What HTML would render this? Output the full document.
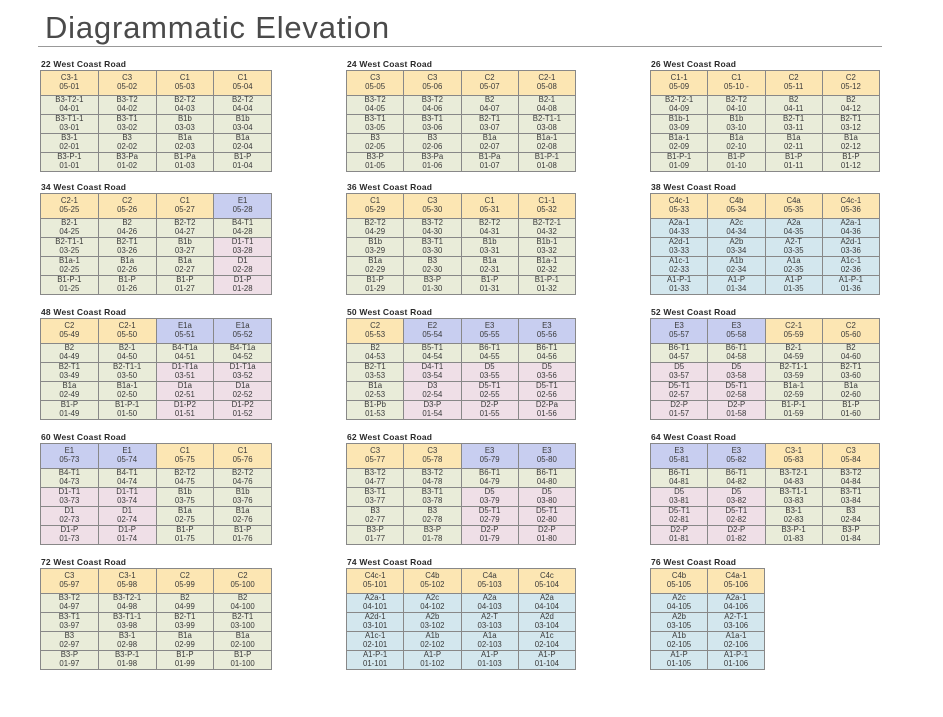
<!DOCTYPE html>
<html><head><meta charset="utf-8">
<style>
html,body{margin:0;padding:0;background:#fff;}
body{width:943px;height:717px;position:relative;overflow:hidden;font-family:"Liberation Sans",sans-serif;}
h1{position:absolute;left:45px;top:10px;margin:0;font-weight:normal;font-size:31px;color:#4a4a4a;letter-spacing:0.8px;}
.rule{position:absolute;left:38px;top:46px;width:844px;height:1px;background:#999;}
.hd{position:absolute;font-weight:bold;font-size:8.5px;color:#2a2a2a;letter-spacing:0.2px;}
table{position:absolute;border-collapse:collapse;border:1.5px solid #666;table-layout:fixed;}
td{border:1px solid #888;text-align:center;font-size:7.8px;line-height:8.6px;color:#3a3a3a;padding:0;height:18px;}
tr:first-child td{height:24px;}
.y{background:#fce6b3;}.g{background:#e9ecd9;}.b{background:#d3e7ee;}.p{background:#c8cef0;}.k{background:#efdfe7;}
</style></head><body>
<h1>Diagrammatic Elevation</h1>
<div class="rule"></div>

<div class="hd" style="left:41px;top:59px">22 West Coast Road</div>
<table style="left:40px;top:70px;width:232px">
<tr><td class=y>C3-1<br>05-01</td><td class=y>C3<br>05-02</td><td class=y>C1<br>05-03</td><td class=y>C1<br>05-04</td></tr>
<tr><td class=g>B3-T2-1<br>04-01</td><td class=g>B3-T2<br>04-02</td><td class=g>B2-T2<br>04-03</td><td class=g>B2-T2<br>04-04</td></tr>
<tr><td class=g>B3-T1-1<br>03-01</td><td class=g>B3-T1<br>03-02</td><td class=g>B1b<br>03-03</td><td class=g>B1b<br>03-04</td></tr>
<tr><td class=g>B3-1<br>02-01</td><td class=g>B3<br>02-02</td><td class=g>B1a<br>02-03</td><td class=g>B1a<br>02-04</td></tr>
<tr><td class=g>B3-P-1<br>01-01</td><td class=g>B3-Pa<br>01-02</td><td class=g>B1-Pa<br>01-03</td><td class=g>B1-P<br>01-04</td></tr>
</table>

<div class="hd" style="left:347px;top:59px">24 West Coast Road</div>
<table style="left:346px;top:70px;width:230px">
<tr><td class=y>C3<br>05-05</td><td class=y>C3<br>05-06</td><td class=y>C2<br>05-07</td><td class=y>C2-1<br>05-08</td></tr>
<tr><td class=g>B3-T2<br>04-05</td><td class=g>B3-T2<br>04-06</td><td class=g>B2<br>04-07</td><td class=g>B2-1<br>04-08</td></tr>
<tr><td class=g>B3-T1<br>03-05</td><td class=g>B3-T1<br>03-06</td><td class=g>B2-T1<br>03-07</td><td class=g>B2-T1-1<br>03-08</td></tr>
<tr><td class=g>B3<br>02-05</td><td class=g>B3<br>02-06</td><td class=g>B1a<br>02-07</td><td class=g>B1a-1<br>02-08</td></tr>
<tr><td class=g>B3-P<br>01-05</td><td class=g>B3-Pa<br>01-06</td><td class=g>B1-Pa<br>01-07</td><td class=g>B1-P-1<br>01-08</td></tr>
</table>

<div class="hd" style="left:651px;top:59px">26 West Coast Road</div>
<table style="left:650px;top:70px;width:230px">
<tr><td class=y>C1-1<br>05-09</td><td class=y>C1<br>05-10 -</td><td class=y>C2<br>05-11</td><td class=y>C2<br>05-12</td></tr>
<tr><td class=g>B2-T2-1<br>04-09</td><td class=g>B2-T2<br>04-10</td><td class=g>B2<br>04-11</td><td class=g>B2<br>04-12</td></tr>
<tr><td class=g>B1b-1<br>03-09</td><td class=g>B1b<br>03-10</td><td class=g>B2-T1<br>03-11</td><td class=g>B2-T1<br>03-12</td></tr>
<tr><td class=g>B1a-1<br>02-09</td><td class=g>B1a<br>02-10</td><td class=g>B1a<br>02-11</td><td class=g>B1a<br>02-12</td></tr>
<tr><td class=g>B1-P-1<br>01-09</td><td class=g>B1-P<br>01-10</td><td class=g>B1-P<br>01-11</td><td class=g>B1-P<br>01-12</td></tr>
</table>

<div class="hd" style="left:41px;top:182px">34 West Coast Road</div>
<table style="left:40px;top:193px;width:232px">
<tr><td class=y>C2-1<br>05-25</td><td class=y>C2<br>05-26</td><td class=y>C1<br>05-27</td><td class=p>E1<br>05-28</td></tr>
<tr><td class=g>B2-1<br>04-25</td><td class=g>B2<br>04-26</td><td class=g>B2-T2<br>04-27</td><td class=g>B4-T1<br>04-28</td></tr>
<tr><td class=g>B2-T1-1<br>03-25</td><td class=g>B2-T1<br>03-26</td><td class=g>B1b<br>03-27</td><td class=k>D1-T1<br>03-28</td></tr>
<tr><td class=g>B1a-1<br>02-25</td><td class=g>B1a<br>02-26</td><td class=g>B1a<br>02-27</td><td class=k>D1<br>02-28</td></tr>
<tr><td class=g>B1-P-1<br>01-25</td><td class=g>B1-P<br>01-26</td><td class=g>B1-P<br>01-27</td><td class=k>D1-P<br>01-28</td></tr>
</table>

<div class="hd" style="left:347px;top:182px">36 West Coast Road</div>
<table style="left:346px;top:193px;width:230px">
<tr><td class=y>C1<br>05-29</td><td class=y>C3<br>05-30</td><td class=y>C1<br>05-31</td><td class=y>C1-1<br>05-32</td></tr>
<tr><td class=g>B2-T2<br>04-29</td><td class=g>B3-T2<br>04-30</td><td class=g>B2-T2<br>04-31</td><td class=g>B2-T2-1<br>04-32</td></tr>
<tr><td class=g>B1b<br>03-29</td><td class=g>B3-T1<br>03-30</td><td class=g>B1b<br>03-31</td><td class=g>B1b-1<br>03-32</td></tr>
<tr><td class=g>B1a<br>02-29</td><td class=g>B3<br>02-30</td><td class=g>B1a<br>02-31</td><td class=g>B1a-1<br>02-32</td></tr>
<tr><td class=g>B1-P<br>01-29</td><td class=g>B3-P<br>01-30</td><td class=g>B1-P<br>01-31</td><td class=g>B1-P-1<br>01-32</td></tr>
</table>

<div class="hd" style="left:651px;top:182px">38 West Coast Road</div>
<table style="left:650px;top:193px;width:230px">
<tr><td class=y>C4c-1<br>05-33</td><td class=y>C4b<br>05-34</td><td class=y>C4a<br>05-35</td><td class=y>C4c-1<br>05-36</td></tr>
<tr><td class=b>A2a-1<br>04-33</td><td class=b>A2c<br>04-34</td><td class=b>A2a<br>04-35</td><td class=b>A2a-1<br>04-36</td></tr>
<tr><td class=b>A2d-1<br>03-33</td><td class=b>A2b<br>03-34</td><td class=b>A2-T<br>03-35</td><td class=b>A2d-1<br>03-36</td></tr>
<tr><td class=b>A1c-1<br>02-33</td><td class=b>A1b<br>02-34</td><td class=b>A1a<br>02-35</td><td class=b>A1c-1<br>02-36</td></tr>
<tr><td class=b>A1-P-1<br>01-33</td><td class=b>A1-P<br>01-34</td><td class=b>A1-P<br>01-35</td><td class=b>A1-P-1<br>01-36</td></tr>
</table>

<div class="hd" style="left:41px;top:307px">48 West Coast Road</div>
<table style="left:40px;top:318px;width:232px">
<tr><td class=y>C2<br>05-49</td><td class=y>C2-1<br>05-50</td><td class=p>E1a<br>05-51</td><td class=p>E1a<br>05-52</td></tr>
<tr><td class=g>B2<br>04-49</td><td class=g>B2-1<br>04-50</td><td class=g>B4-T1a<br>04-51</td><td class=g>B4-T1a<br>04-52</td></tr>
<tr><td class=g>B2-T1<br>03-49</td><td class=g>B2-T1-1<br>03-50</td><td class=k>D1-T1a<br>03-51</td><td class=k>D1-T1a<br>03-52</td></tr>
<tr><td class=g>B1a<br>02-49</td><td class=g>B1a-1<br>02-50</td><td class=k>D1a<br>02-51</td><td class=k>D1a<br>02-52</td></tr>
<tr><td class=g>B1-P<br>01-49</td><td class=g>B1-P-1<br>01-50</td><td class=k>D1-P2<br>01-51</td><td class=k>D1-P2<br>01-52</td></tr>
</table>

<div class="hd" style="left:347px;top:307px">50 West Coast Road</div>
<table style="left:346px;top:318px;width:230px">
<tr><td class=y>C2<br>05-53</td><td class=p>E2<br>05-54</td><td class=p>E3<br>05-55</td><td class=p>E3<br>05-56</td></tr>
<tr><td class=g>B2<br>04-53</td><td class=g>B5-T1<br>04-54</td><td class=g>B6-T1<br>04-55</td><td class=g>B6-T1<br>04-56</td></tr>
<tr><td class=g>B2-T1<br>03-53</td><td class=k>D4-T1<br>03-54</td><td class=k>D5<br>03-55</td><td class=k>D5<br>03-56</td></tr>
<tr><td class=g>B1a<br>02-53</td><td class=k>D3<br>02-54</td><td class=k>D5-T1<br>02-55</td><td class=k>D5-T1<br>02-56</td></tr>
<tr><td class=g>B1-Pb<br>01-53</td><td class=k>D3-P<br>01-54</td><td class=k>D2-P<br>01-55</td><td class=k>D2-Pa<br>01-56</td></tr>
</table>

<div class="hd" style="left:651px;top:307px">52 West Coast Road</div>
<table style="left:650px;top:318px;width:230px">
<tr><td class=p>E3<br>05-57</td><td class=p>E3<br>05-58</td><td class=y>C2-1<br>05-59</td><td class=y>C2<br>05-60</td></tr>
<tr><td class=g>B6-T1<br>04-57</td><td class=g>B6-T1<br>04-58</td><td class=g>B2-1<br>04-59</td><td class=g>B2<br>04-60</td></tr>
<tr><td class=k>D5<br>03-57</td><td class=k>D5<br>03-58</td><td class=g>B2-T1-1<br>03-59</td><td class=g>B2-T1<br>03-60</td></tr>
<tr><td class=k>D5-T1<br>02-57</td><td class=k>D5-T1<br>02-58</td><td class=g>B1a-1<br>02-59</td><td class=g>B1a<br>02-60</td></tr>
<tr><td class=k>D2-P<br>01-57</td><td class=k>D2-P<br>01-58</td><td class=g>B1-P-1<br>01-59</td><td class=g>B1-P<br>01-60</td></tr>
</table>

<div class="hd" style="left:41px;top:432px">60 West Coast Road</div>
<table style="left:40px;top:443px;width:232px">
<tr><td class=p>E1<br>05-73</td><td class=p>E1<br>05-74</td><td class=y>C1<br>05-75</td><td class=y>C1<br>05-76</td></tr>
<tr><td class=g>B4-T1<br>04-73</td><td class=g>B4-T1<br>04-74</td><td class=g>B2-T2<br>04-75</td><td class=g>B2-T2<br>04-76</td></tr>
<tr><td class=k>D1-T1<br>03-73</td><td class=k>D1-T1<br>03-74</td><td class=g>B1b<br>03-75</td><td class=g>B1b<br>03-76</td></tr>
<tr><td class=k>D1<br>02-73</td><td class=k>D1<br>02-74</td><td class=g>B1a<br>02-75</td><td class=g>B1a<br>02-76</td></tr>
<tr><td class=k>D1-P<br>01-73</td><td class=k>D1-P<br>01-74</td><td class=g>B1-P<br>01-75</td><td class=g>B1-P<br>01-76</td></tr>
</table>

<div class="hd" style="left:347px;top:432px">62 West Coast Road</div>
<table style="left:346px;top:443px;width:230px">
<tr><td class=y>C3<br>05-77</td><td class=y>C3<br>05-78</td><td class=p>E3<br>05-79</td><td class=p>E3<br>05-80</td></tr>
<tr><td class=g>B3-T2<br>04-77</td><td class=g>B3-T2<br>04-78</td><td class=g>B6-T1<br>04-79</td><td class=g>B6-T1<br>04-80</td></tr>
<tr><td class=g>B3-T1<br>03-77</td><td class=g>B3-T1<br>03-78</td><td class=k>D5<br>03-79</td><td class=k>D5<br>03-80</td></tr>
<tr><td class=g>B3<br>02-77</td><td class=g>B3<br>02-78</td><td class=k>D5-T1<br>02-79</td><td class=k>D5-T1<br>02-80</td></tr>
<tr><td class=g>B3-P<br>01-77</td><td class=g>B3-P<br>01-78</td><td class=k>D2-P<br>01-79</td><td class=k>D2-P<br>01-80</td></tr>
</table>

<div class="hd" style="left:651px;top:432px">64 West Coast Road</div>
<table style="left:650px;top:443px;width:230px">
<tr><td class=p>E3<br>05-81</td><td class=p>E3<br>05-82</td><td class=y>C3-1<br>05-83</td><td class=y>C3<br>05-84</td></tr>
<tr><td class=g>B6-T1<br>04-81</td><td class=g>B6-T1<br>04-82</td><td class=g>B3-T2-1<br>04-83</td><td class=g>B3-T2<br>04-84</td></tr>
<tr><td class=k>D5<br>03-81</td><td class=k>D5<br>03-82</td><td class=g>B3-T1-1<br>03-83</td><td class=g>B3-T1<br>03-84</td></tr>
<tr><td class=k>D5-T1<br>02-81</td><td class=k>D5-T1<br>02-82</td><td class=g>B3-1<br>02-83</td><td class=g>B3<br>02-84</td></tr>
<tr><td class=k>D2-P<br>01-81</td><td class=k>D2-P<br>01-82</td><td class=g>B3-P-1<br>01-83</td><td class=g>B3-P<br>01-84</td></tr>
</table>

<div class="hd" style="left:41px;top:557px">72 West Coast Road</div>
<table style="left:40px;top:568px;width:232px">
<tr><td class=y>C3<br>05-97</td><td class=y>C3-1<br>05-98</td><td class=y>C2<br>05-99</td><td class=y>C2<br>05-100</td></tr>
<tr><td class=g>B3-T2<br>04-97</td><td class=g>B3-T2-1<br>04-98</td><td class=g>B2<br>04-99</td><td class=g>B2<br>04-100</td></tr>
<tr><td class=g>B3-T1<br>03-97</td><td class=g>B3-T1-1<br>03-98</td><td class=g>B2-T1<br>03-99</td><td class=g>B2-T1<br>03-100</td></tr>
<tr><td class=g>B3<br>02-97</td><td class=g>B3-1<br>02-98</td><td class=g>B1a<br>02-99</td><td class=g>B1a<br>02-100</td></tr>
<tr><td class=g>B3-P<br>01-97</td><td class=g>B3-P-1<br>01-98</td><td class=g>B1-P<br>01-99</td><td class=g>B1-P<br>01-100</td></tr>
</table>

<div class="hd" style="left:347px;top:557px">74 West Coast Road</div>
<table style="left:346px;top:568px;width:230px">
<tr><td class=y>C4c-1<br>05-101</td><td class=y>C4b<br>05-102</td><td class=y>C4a<br>05-103</td><td class=y>C4c<br>05-104</td></tr>
<tr><td class=b>A2a-1<br>04-101</td><td class=b>A2c<br>04-102</td><td class=b>A2a<br>04-103</td><td class=b>A2a<br>04-104</td></tr>
<tr><td class=b>A2d-1<br>03-101</td><td class=b>A2b<br>03-102</td><td class=b>A2-T<br>03-103</td><td class=b>A2d<br>03-104</td></tr>
<tr><td class=b>A1c-1<br>02-101</td><td class=b>A1b<br>02-102</td><td class=b>A1a<br>02-103</td><td class=b>A1c<br>02-104</td></tr>
<tr><td class=b>A1-P-1<br>01-101</td><td class=b>A1-P<br>01-102</td><td class=b>A1-P<br>01-103</td><td class=b>A1-P<br>01-104</td></tr>
</table>

<div class="hd" style="left:651px;top:557px">76 West Coast Road</div>
<table style="left:650px;top:568px;width:115px">
<tr><td class=y>C4b<br>05-105</td><td class=y>C4a-1<br>05-106</td></tr>
<tr><td class=b>A2c<br>04-105</td><td class=b>A2a-1<br>04-106</td></tr>
<tr><td class=b>A2b<br>03-105</td><td class=b>A2-T-1<br>03-106</td></tr>
<tr><td class=b>A1b<br>02-105</td><td class=b>A1a-1<br>02-106</td></tr>
<tr><td class=b>A1-P<br>01-105</td><td class=b>A1-P-1<br>01-106</td></tr>
</table>

</body></html>
